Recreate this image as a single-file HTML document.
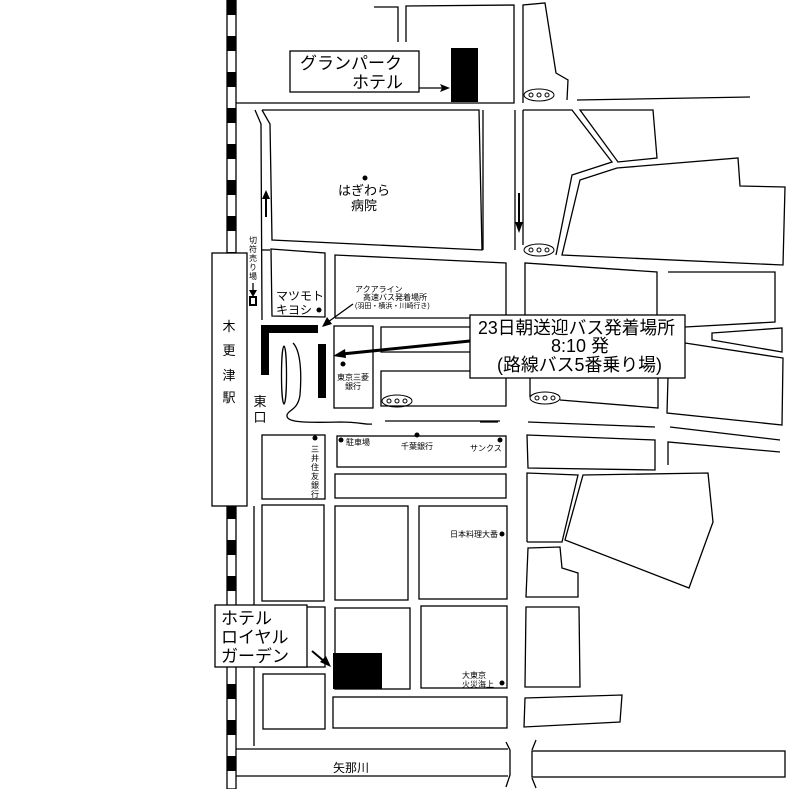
<!DOCTYPE html>
<html><head><meta charset="utf-8"><style>
html,body{margin:0;padding:0;background:#fff;}
svg{display:block;}
text{font-family:"Liberation Sans","Noto Sans CJK JP",sans-serif;fill:#000;}
</style></head><body>
<svg width="786" height="789" viewBox="0 0 786 789" xmlns="http://www.w3.org/2000/svg">
<g fill="none" stroke="#000" stroke-width="1.3">
<!-- railway -->
<rect x="227" y="0" width="9" height="789" fill="#fff"/>
<line x1="231.5" y1="0" x2="231.5" y2="789" stroke-width="8" stroke-dasharray="15 21"/>
<!-- station -->
<rect x="212" y="253" width="35" height="253" fill="#fff"/>
<!-- top blocks -->
<polyline points="374,7 398,7 398,42"/>
<polyline points="406,42 406,6 514,5 514,103 236,103"/>
<polyline points="523,103 523,5 545,3 556,73 568,80 567,100"/>
<polyline points="577,100 750,97"/>
<!-- hospital row -->
<polyline points="255,110 261,124 262,320"/>
<polyline points="262,110 479,110 482,250 272,240 270,124 262,110"/>
<polyline points="483,110 483,250"/>
<polyline points="515,110 515,250"/>
<polyline points="523,110 523,245"/>
<polyline points="523,110 572,110 612,162 572,175 556,255"/>
<polygon points="580,110 653,110 657,158 618,162"/>
<polygon points="580,180 617,168 738,158 740,186 785,187 783,265 562,255"/>
<!-- second row -->
<polyline points="262,250 270,250"/>
<polygon points="271,249 325,253 325,317 272,316"/>
<polyline points="335,318 335,255 506,263 506,320 473,320 473,318 335,318"/>
<polyline points="525,315 525,263 657,272 657,315"/>
<polyline points="685,327 775,322 775,272 668,272"/>
<polygon points="712,333 782,328 782,352 712,340"/>
<polyline points="685,343 783,358 782,425 667,413 668,377"/>
<rect x="334" y="326" width="39" height="82"/>
<polyline points="470,327 381,327 381,352 470,352"/>
<polyline points="470,371 381,371 381,406 506,406 506,378"/>
<polyline points="530,378 530,397"/>
<polyline points="560,400 658,408 658,378"/>
<!-- roads -->
<line x1="385" y1="421" x2="500" y2="421"/>
<line x1="480" y1="422" x2="498" y2="422"/>
<line x1="528" y1="422" x2="655" y2="427"/>
<line x1="670" y1="427" x2="780" y2="440"/>
<!-- loop -->
<ellipse cx="284" cy="375" rx="2.5" ry="29"/>
<path d="M293,343 C300,350 302,370 300,395 C298,410 288,410 287,415 C286,422 300,423 340,422 C360,422 366,425 372,424"/>
<!-- third row -->
<rect x="262" y="435" width="63" height="64"/>
<rect x="337" y="436" width="169" height="31"/>
<rect x="335" y="474" width="171" height="24"/>
<polygon points="527,435 655,440 655,470 528,468"/>
<polyline points="668,465 668,442 780,452"/>
<polyline points="527,542 527,473 578,475 562,542 527,542"/>
<polygon points="583,475 708,473 713,522 689,588 565,540"/>
<polygon points="528,548 560,547 562,568 578,573 578,597 526,597"/>
<line x1="254" y1="506" x2="254" y2="746"/>
<rect x="262" y="505" width="62" height="96"/>
<rect x="335" y="506" width="73" height="94"/>
<rect x="419" y="506" width="88" height="93"/>
<rect x="262" y="607" width="63" height="60"/>
<rect x="335" y="608" width="75" height="81"/>
<rect x="421" y="606" width="86" height="82"/>
<rect x="263" y="674" width="62" height="55"/>
<rect x="333" y="697" width="174" height="31"/>
<polygon points="526,607 579,607 580,687 525,687"/>
<polygon points="525,698 622,695 620,722 524,727"/>
<!-- river -->
<line x1="236" y1="749" x2="508" y2="749"/>
<line x1="236" y1="776" x2="508" y2="776"/>
<path d="M506,742 L510,750 L510,775 L506,787"/>
<path d="M536,740 L532,750"/>
<path d="M532,778 L536,788"/>
<rect x="532" y="751" width="253" height="26"/>
<!-- bus ovals -->
<g stroke-width="1">
<ellipse cx="539" cy="95" rx="15" ry="6"/>
<ellipse cx="539" cy="250" rx="15" ry="6"/>
<ellipse cx="397" cy="401" rx="15" ry="6"/>
<ellipse cx="545" cy="398" rx="15" ry="6"/>
</g>
<g stroke-width="1">
<circle cx="531" cy="95" r="2"/><circle cx="539" cy="95" r="2"/><circle cx="547" cy="95" r="2"/>
<circle cx="531" cy="250" r="2"/><circle cx="539" cy="250" r="2"/><circle cx="547" cy="250" r="2"/>
<circle cx="389" cy="401" r="2"/><circle cx="397" cy="401" r="2"/><circle cx="405" cy="401" r="2"/>
<circle cx="537" cy="398" r="2"/><circle cx="545" cy="398" r="2"/><circle cx="553" cy="398" r="2"/>
</g>
<!-- labels boxes -->
<rect x="290" y="51" width="129" height="41" fill="#fff"/>
<rect x="470" y="315" width="215" height="63" fill="#fff"/>
<rect x="215" y="605" width="92" height="62" fill="#fff"/>
<!-- arrows -->
<line x1="419" y1="88" x2="442" y2="88"/>
<line x1="353" y1="304" x2="328" y2="322"/>
<line x1="470" y1="341" x2="342" y2="354" stroke-width="3"/>
<line x1="312" y1="651" x2="325" y2="662" stroke-width="2"/>
<line x1="266" y1="217" x2="266" y2="196" stroke-width="2"/>
<line x1="519" y1="193" x2="519" y2="223" stroke-width="2"/>
<line x1="253" y1="283" x2="253" y2="292"/>
<rect x="250" y="297" width="6" height="8" stroke-width="2"/>
</g>
<g fill="#000">
<polygon points="450,88 440,84 442,88 440,92"/>
<polygon points="322,327 327,317 332,324"/>
<polygon points="333,356 345,349 346,358"/>
<polygon points="331,667 320,662 326,656"/>
<polygon points="266,190 262,199 270,199"/>
<polygon points="519,233 515,222 523,222"/>
<polygon points="253,297 249,290 257,290"/>
<rect x="451" y="48" width="27" height="54"/>
<rect x="261" y="325" width="57" height="8"/>
<rect x="261" y="325" width="8" height="50"/>
<rect x="318" y="344" width="8" height="54"/>
<rect x="333" y="653" width="49" height="36"/>
<circle cx="365" cy="178" r="2.5"/>
<circle cx="319" cy="310" r="2.5"/>
<circle cx="343" cy="364" r="2.5"/>
<circle cx="315" cy="438" r="2.5"/>
<circle cx="341" cy="440" r="2.5"/>
<circle cx="417" cy="435" r="2.5"/>
<circle cx="500" cy="440" r="2.5"/>
<circle cx="502" cy="534" r="2.5"/>
<circle cx="502" cy="683" r="2.5"/>
</g>
<!-- text -->
<text x="300" y="69" font-size="17">グランパーク</text>
<text x="352" y="88" font-size="17">ホテル</text>
<text x="364" y="195" font-size="13" text-anchor="middle">はぎわら</text>
<text x="364" y="210" font-size="13" text-anchor="middle">病院</text>
<text x="276" y="300" font-size="12">マツモト</text>
<text x="276" y="314" font-size="12">キヨシ</text>
<text x="355" y="292" font-size="8">アクアライン</text>
<text x="363" y="300" font-size="8">高速バス発着場所</text>
<text x="355" y="308" font-size="7">(羽田・横浜・川崎行き)</text>
<text x="353" y="380" font-size="8" text-anchor="middle">東京三菱</text>
<text x="353" y="389" font-size="8" text-anchor="middle">銀行</text>
<text x="478" y="334" font-size="18" textLength="197" lengthAdjust="spacingAndGlyphs">23日朝送迎バス発着場所</text>
<text x="580" y="352" font-size="18" text-anchor="middle">8:10 発</text>
<text x="497" y="371" font-size="18" textLength="165" lengthAdjust="spacingAndGlyphs">(路線バス5番乗り場)</text>
<g font-size="13" text-anchor="middle">
<text x="229" y="331">木</text><text x="229" y="355">更</text><text x="229" y="380">津</text><text x="229" y="402">駅</text>
<text x="260" y="406">東</text><text x="260" y="422">口</text>
</g>
<g font-size="8" text-anchor="middle">
<text x="253" y="243">切</text><text x="253" y="252">符</text><text x="253" y="261">売</text><text x="253" y="270">り</text><text x="253" y="279">場</text>
<text x="315" y="452">三</text><text x="315" y="461">井</text><text x="315" y="470">住</text><text x="315" y="479">友</text><text x="315" y="488">銀</text><text x="315" y="497">行</text>
</g>
<text x="346" y="445" font-size="8">駐車場</text>
<text x="417" y="449" font-size="8" text-anchor="middle">千葉銀行</text>
<text x="470" y="451" font-size="8">サンクス</text>
<text x="450" y="537" font-size="8">日本料理大番</text>
<text x="462" y="678" font-size="8">大東京</text>
<text x="462" y="687" font-size="8">火災海上</text>
<text x="221" y="624" font-size="17">ホテル</text>
<text x="221" y="643" font-size="17">ロイヤル</text>
<text x="221" y="662" font-size="17">ガーデン</text>
<text x="333" y="772" font-size="12">矢那川</text>
</svg>
</body></html>
